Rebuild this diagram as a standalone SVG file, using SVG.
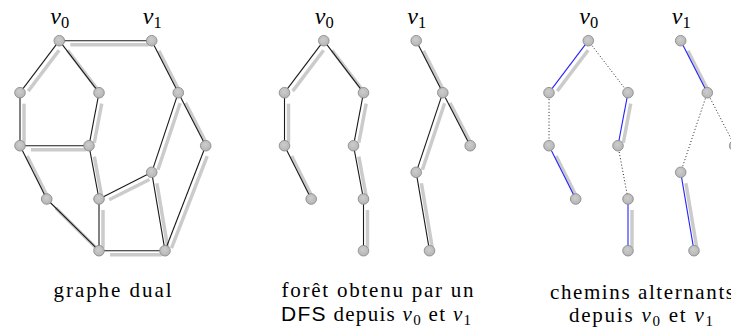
<svg xmlns="http://www.w3.org/2000/svg" width="731" height="331" viewBox="0 0 731 331">
<defs>
<radialGradient id="ng" cx="0.45" cy="0.4" r="0.6">
<stop offset="0" stop-color="#cdcdcd"/>
<stop offset="1" stop-color="#b5b5b5"/>
</radialGradient>
<filter id="blur" x="-20%" y="-20%" width="140%" height="140%">
<feGaussianBlur stdDeviation="0.7"/>
</filter>
</defs>
<style>
.e{stroke:#1a1a1a;stroke-width:1.1;fill:none}
.b{stroke:#2323ff;stroke-width:1.1;fill:none}
.d{stroke:#222;stroke-width:1;stroke-dasharray:1 2.2;fill:none}
.sh{stroke:#cbcbcb;stroke-width:3.5;fill:none;filter:url(#blur)}
.n{fill:url(#ng);stroke:#8c8c8c;stroke-width:0.9}
text{fill:#000;font-family:'Liberation Serif',serif}
.lbl{font-size:24px}
.sub{font-size:16.5px}
.i{font-style:italic}
.sf{font-family:'Liberation Sans',sans-serif}
</style>

<g id="connectors">
<g id="panel1-edges">
<g class="sh">
<line x1="70.3" y1="44.7" x2="148.7" y2="44.7"/>
<line x1="59.1" y1="50.3" x2="28.2" y2="91.1"/>
<line x1="67.5" y1="50.3" x2="98.8" y2="91.1"/>
<line x1="24" y1="103.7" x2="24" y2="142.7"/>
<line x1="31" y1="149.7" x2="86" y2="149.7"/>
<line x1="101.7" y1="103.6" x2="94.3" y2="142.8"/>
<line x1="94.3" y1="156.6" x2="101.7" y2="196.1"/>
<line x1="27.1" y1="156" x2="47.6" y2="196.7"/>
<line x1="55.7" y1="207.9" x2="98" y2="249.8"/>
<line x1="103" y1="210" x2="103" y2="247.7"/>
<line x1="110" y1="254.7" x2="162" y2="254.7"/>
<line x1="109.2" y1="199.8" x2="149.5" y2="179.5"/>
<line x1="156.9" y1="183.2" x2="167.8" y2="247.8"/>
<line x1="157.9" y1="169.7" x2="180.1" y2="103.3"/>
<line x1="158.9" y1="50.9" x2="179.1" y2="90.5"/>
<line x1="185.5" y1="102.9" x2="206.5" y2="143.5"/>
<line x1="207.2" y1="156.2" x2="171.5" y2="248.2"/>
</g>
<g class="e">
<line x1="59.3" y1="40.7" x2="151.7" y2="40.7"/>
<line x1="59.3" y1="40.7" x2="20" y2="92.7"/>
<line x1="59.3" y1="40.7" x2="99" y2="92.7"/>
<line x1="20" y1="92.7" x2="20" y2="145.7"/>
<line x1="20" y1="145.7" x2="89" y2="145.7"/>
<line x1="99" y1="92.7" x2="89" y2="145.7"/>
<line x1="89" y1="145.7" x2="99" y2="199"/>
<line x1="20" y1="145.7" x2="46.7" y2="199"/>
<line x1="46.7" y1="199" x2="99" y2="250.7"/>
<line x1="99" y1="199" x2="99" y2="250.7"/>
<line x1="99" y1="250.7" x2="165" y2="250.7"/>
<line x1="99" y1="199" x2="151.7" y2="172.3"/>
<line x1="151.7" y1="172.3" x2="165" y2="250.7"/>
<line x1="151.7" y1="172.3" x2="178.3" y2="92.7"/>
<line x1="151.7" y1="40.7" x2="178.3" y2="92.7"/>
<line x1="178.3" y1="92.7" x2="205.7" y2="145.7"/>
<line x1="205.7" y1="145.7" x2="165" y2="250.7"/>
</g>
</g>
<g id="panel2-edges" transform="translate(264.5 0)">
<g class="sh">
<line x1="59.1" y1="50.3" x2="28.2" y2="91.1"/>
<line x1="67.5" y1="50.3" x2="98.8" y2="91.1"/>
<line x1="24" y1="103.7" x2="24" y2="142.7"/>
<line x1="101.7" y1="103.6" x2="94.3" y2="142.8"/>
<line x1="94.3" y1="156.6" x2="101.7" y2="196.1"/>
<line x1="27.1" y1="156" x2="47.6" y2="196.7"/>
<line x1="103" y1="210" x2="103" y2="247.7"/>
<line x1="156.9" y1="183.2" x2="167.8" y2="247.8"/>
<line x1="157.9" y1="169.7" x2="180.1" y2="103.3"/>
<line x1="158.9" y1="50.9" x2="179.1" y2="90.5"/>
<line x1="185.5" y1="102.9" x2="206.5" y2="143.5"/>
</g>
<g class="e">
<line x1="59.3" y1="40.7" x2="20" y2="92.7"/>
<line x1="59.3" y1="40.7" x2="99" y2="92.7"/>
<line x1="20" y1="92.7" x2="20" y2="145.7"/>
<line x1="99" y1="92.7" x2="89" y2="145.7"/>
<line x1="89" y1="145.7" x2="99" y2="199"/>
<line x1="20" y1="145.7" x2="46.7" y2="199"/>
<line x1="99" y1="199" x2="99" y2="250.7"/>
<line x1="151.7" y1="172.3" x2="165" y2="250.7"/>
<line x1="151.7" y1="172.3" x2="178.3" y2="92.7"/>
<line x1="151.7" y1="40.7" x2="178.3" y2="92.7"/>
<line x1="178.3" y1="92.7" x2="205.7" y2="145.7"/>
</g>
</g>
<g id="panel3-edges" transform="translate(529 0)">
<g class="sh">
<line x1="59.1" y1="50.3" x2="28.2" y2="91.1"/>
<line x1="101.7" y1="103.6" x2="94.3" y2="142.8"/>
<line x1="27.1" y1="156" x2="47.6" y2="196.7"/>
<line x1="103" y1="210" x2="103" y2="247.7"/>
<line x1="156.9" y1="183.2" x2="167.8" y2="247.8"/>
<line x1="158.9" y1="50.9" x2="179.1" y2="90.5"/>
</g>
<g class="b">
<line x1="59.3" y1="40.7" x2="20" y2="92.7"/>
<line x1="99" y1="92.7" x2="89" y2="145.7"/>
<line x1="20" y1="145.7" x2="46.7" y2="199"/>
<line x1="99" y1="199" x2="99" y2="250.7"/>
<line x1="151.7" y1="172.3" x2="165" y2="250.7"/>
<line x1="151.7" y1="40.7" x2="178.3" y2="92.7"/>
</g>
<g class="d">
<line x1="59.3" y1="40.7" x2="99" y2="92.7"/>
<line x1="20" y1="92.7" x2="20" y2="145.7"/>
<line x1="89" y1="145.7" x2="99" y2="199"/>
<line x1="151.7" y1="172.3" x2="178.3" y2="92.7"/>
<line x1="178.3" y1="92.7" x2="205.7" y2="145.7"/>
</g>
</g>
</g>

<g id="panel1-nodes">
<g id="p1-v0"><circle class="n" cx="59.3" cy="40.7" r="5.3"/><text class="lbl" x="59.8" y="24" text-anchor="middle"><tspan class="i">v</tspan><tspan class="sub" dy="3.5">0</tspan></text></g>
<g id="p1-v1"><circle class="n" cx="151.7" cy="40.7" r="5.3"/><text class="lbl" x="152.2" y="24" text-anchor="middle"><tspan class="i">v</tspan><tspan class="sub" dy="3.5">1</tspan></text></g>
<g id="p1-a"><circle class="n" cx="20" cy="92.7" r="5.3"/></g>
<g id="p1-b"><circle class="n" cx="99" cy="92.7" r="5.3"/></g>
<g id="p1-c"><circle class="n" cx="178.3" cy="92.7" r="5.3"/></g>
<g id="p1-d"><circle class="n" cx="20" cy="145.7" r="5.3"/></g>
<g id="p1-e"><circle class="n" cx="89" cy="145.7" r="5.3"/></g>
<g id="p1-f"><circle class="n" cx="205.7" cy="145.7" r="5.3"/></g>
<g id="p1-g"><circle class="n" cx="151.7" cy="172.3" r="5.3"/></g>
<g id="p1-h"><circle class="n" cx="46.7" cy="199" r="5.3"/></g>
<g id="p1-i"><circle class="n" cx="99" cy="199" r="5.3"/></g>
<g id="p1-j"><circle class="n" cx="99" cy="250.7" r="5.3"/></g>
<g id="p1-k"><circle class="n" cx="165" cy="250.7" r="5.3"/></g>
</g>

<g id="panel2-nodes" transform="translate(264.5 0)">
<g id="p2-v0"><circle class="n" cx="59.3" cy="40.7" r="5.3"/><text class="lbl" x="59.8" y="24" text-anchor="middle"><tspan class="i">v</tspan><tspan class="sub" dy="3.5">0</tspan></text></g>
<g id="p2-v1"><circle class="n" cx="151.7" cy="40.7" r="5.3"/><text class="lbl" x="152.2" y="24" text-anchor="middle"><tspan class="i">v</tspan><tspan class="sub" dy="3.5">1</tspan></text></g>
<g id="p2-a"><circle class="n" cx="20" cy="92.7" r="5.3"/></g>
<g id="p2-b"><circle class="n" cx="99" cy="92.7" r="5.3"/></g>
<g id="p2-c"><circle class="n" cx="178.3" cy="92.7" r="5.3"/></g>
<g id="p2-d"><circle class="n" cx="20" cy="145.7" r="5.3"/></g>
<g id="p2-e"><circle class="n" cx="89" cy="145.7" r="5.3"/></g>
<g id="p2-f"><circle class="n" cx="205.7" cy="145.7" r="5.3"/></g>
<g id="p2-g"><circle class="n" cx="151.7" cy="172.3" r="5.3"/></g>
<g id="p2-h"><circle class="n" cx="46.7" cy="199" r="5.3"/></g>
<g id="p2-i"><circle class="n" cx="99" cy="199" r="5.3"/></g>
<g id="p2-j"><circle class="n" cx="99" cy="250.7" r="5.3"/></g>
<g id="p2-k"><circle class="n" cx="165" cy="250.7" r="5.3"/></g>
</g>

<g id="panel3-nodes" transform="translate(529 0)">
<g id="p3-v0"><circle class="n" cx="59.3" cy="40.7" r="5.3"/><text class="lbl" x="59.8" y="24" text-anchor="middle"><tspan class="i">v</tspan><tspan class="sub" dy="3.5">0</tspan></text></g>
<g id="p3-v1"><circle class="n" cx="151.7" cy="40.7" r="5.3"/><text class="lbl" x="152.2" y="24" text-anchor="middle"><tspan class="i">v</tspan><tspan class="sub" dy="3.5">1</tspan></text></g>
<g id="p3-a"><circle class="n" cx="20" cy="92.7" r="5.3"/></g>
<g id="p3-b"><circle class="n" cx="99" cy="92.7" r="5.3"/></g>
<g id="p3-c"><circle class="n" cx="178.3" cy="92.7" r="5.3"/></g>
<g id="p3-d"><circle class="n" cx="20" cy="145.7" r="5.3"/></g>
<g id="p3-e"><circle class="n" cx="89" cy="145.7" r="5.3"/></g>
<g id="p3-f"><circle class="n" cx="205.7" cy="145.7" r="5.3"/></g>
<g id="p3-g"><circle class="n" cx="151.7" cy="172.3" r="5.3"/></g>
<g id="p3-h"><circle class="n" cx="46.7" cy="199" r="5.3"/></g>
<g id="p3-i"><circle class="n" cx="99" cy="199" r="5.3"/></g>
<g id="p3-j"><circle class="n" cx="99" cy="250.7" r="5.3"/></g>
<g id="p3-k"><circle class="n" cx="165" cy="250.7" r="5.3"/></g>
</g>

<g id="captions" font-size="21">
<text x="112.5" y="297" text-anchor="middle" textLength="118" lengthAdjust="spacing">graphe dual</text>
<text x="377.5" y="297" text-anchor="middle" textLength="192" lengthAdjust="spacing">forêt obtenu par un</text>
<text x="376" y="321" text-anchor="middle" textLength="190" lengthAdjust="spacing"><tspan class="sf">DFS</tspan> depuis <tspan class="i">v</tspan><tspan font-size="15" dy="3.5">0</tspan><tspan dy="-3.5"> et </tspan><tspan class="i">v</tspan><tspan font-size="15" dy="3.5">1</tspan></text>
<text x="642" y="299" text-anchor="middle" textLength="184" lengthAdjust="spacing">chemins alternants</text>
<text x="641" y="322" text-anchor="middle" textLength="144" lengthAdjust="spacing">depuis <tspan class="i">v</tspan><tspan font-size="15" dy="3.5">0</tspan><tspan dy="-3.5"> et </tspan><tspan class="i">v</tspan><tspan font-size="15" dy="3.5">1</tspan></text>
</g>
</svg>
